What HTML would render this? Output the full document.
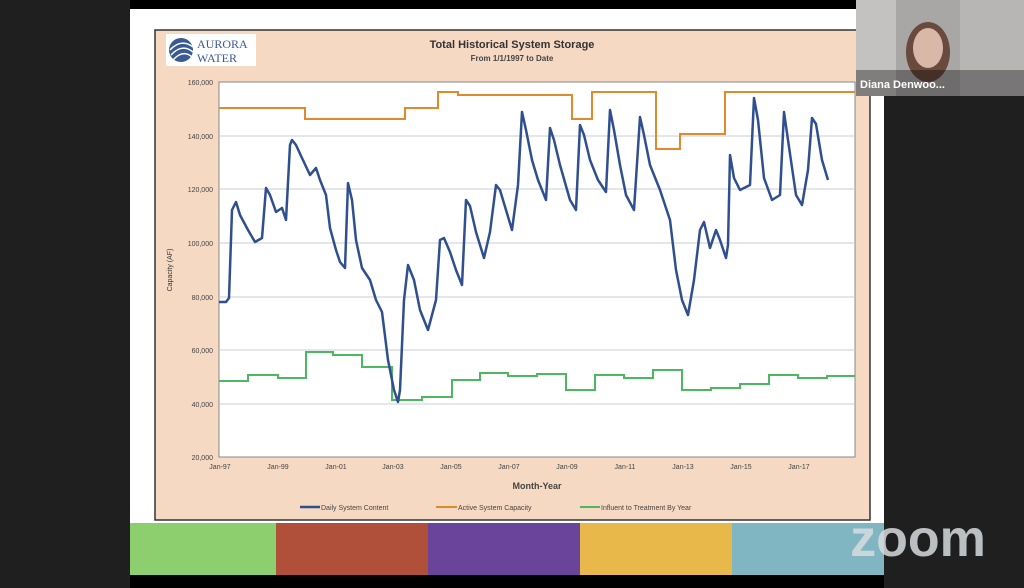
<!DOCTYPE html>
<html><head><meta charset="utf-8"><style>
html,body{margin:0;padding:0;width:1024px;height:588px;overflow:hidden;background:#1f1f1f;font-family:"Liberation Sans",sans-serif}
</style></head><body>
<svg width="1024" height="588" viewBox="0 0 1024 588" xmlns="http://www.w3.org/2000/svg" style="position:absolute;left:0;top:0">
<rect x="0" y="0" width="1024" height="588" fill="#1f1f1f"/>
<rect x="130" y="0" width="754" height="9" fill="#000"/>
<rect x="130" y="575" width="754" height="13" fill="#000"/>
<rect x="130" y="9" width="754" height="566" fill="#ffffff"/>
<rect x="155" y="30" width="715" height="490" fill="#f6d9c2" stroke="#333" stroke-width="1.5"/>
<rect x="166" y="34" width="90" height="32" fill="#fff"/>
<circle cx="181" cy="50" r="12" fill="#3a5a94"/>
<path d="M170 50 Q181 38 193 47 M171 55 Q182 43 193 52 M173 60 Q183 49 192 57" stroke="#fff" stroke-width="1.5" fill="none"/>
<text x="197" y="48" font-family="Liberation Serif" font-size="12" fill="#3a5a94">AURORA</text>
<text x="197" y="62" font-family="Liberation Serif" font-size="12" fill="#3a5a94">WATER</text>
<text x="512" y="48" text-anchor="middle" font-size="11" font-weight="bold" fill="#333">Total Historical System Storage</text>
<text x="512" y="61" text-anchor="middle" font-size="8" font-weight="bold" fill="#444">From 1/1/1997 to Date</text>
<rect x="219" y="82" width="636" height="375" fill="#fff" stroke="#888"/>
<g stroke="#c8cdd8" stroke-width="1">
<line x1="219" x2="855" y1="136" y2="136"/><line x1="219" x2="855" y1="189" y2="189"/><line x1="219" x2="855" y1="243" y2="243"/><line x1="219" x2="855" y1="297" y2="297"/><line x1="219" x2="855" y1="350" y2="350"/><line x1="219" x2="855" y1="404" y2="404"/>
</g>
<g font-size="7" fill="#444" text-anchor="end">
<text x="213" y="85">160,000</text><text x="213" y="139">140,000</text><text x="213" y="192">120,000</text><text x="213" y="246">100,000</text><text x="213" y="300">80,000</text><text x="213" y="353">60,000</text><text x="213" y="407">40,000</text><text x="213" y="460">20,000</text>
</g>
<text transform="translate(172,270) rotate(-90)" text-anchor="middle" font-size="7" fill="#333">Capacity (AF)</text>
<g font-size="7" fill="#444" text-anchor="middle">
<text x="220" y="469">Jan-97</text><text x="278" y="469">Jan-99</text><text x="336" y="469">Jan-01</text><text x="393" y="469">Jan-03</text><text x="451" y="469">Jan-05</text><text x="509" y="469">Jan-07</text><text x="567" y="469">Jan-09</text><text x="625" y="469">Jan-11</text><text x="683" y="469">Jan-13</text><text x="741" y="469">Jan-15</text><text x="799" y="469">Jan-17</text>
</g>
<text x="537" y="489" text-anchor="middle" font-size="9" font-weight="bold" fill="#444">Month-Year</text>
<polyline fill="none" stroke="#e08a2c" stroke-width="2" points="219,108 305,108 305,119 405,119 405,108 438,108 438,92 458,92 458,95 572,95 572,119 592,119 592,92 656,92 656,149 680,149 680,134 725,134 725,92 855,92"/>
<polyline fill="none" stroke="#4cb860" stroke-width="2" points="219,381 248,381 248,375 278,375 278,378 306,378 306,352 333,352 333,355 362,355 362,367 392,367 392,400 422,400 422,397 452,397 452,380 480,380 480,373 508,373 508,376 537,376 537,374 566,374 566,390 595,390 595,375 624,375 624,378 653,378 653,370 682,370 682,390 711,390 711,388 740,388 740,384 769,384 769,375 798,375 798,378 827,378 827,376 855,376"/>
<polyline fill="none" stroke="#2f4f8f" stroke-width="2.5" stroke-linejoin="round" points="219,302 226,302 229,298 232,210 236,202 240,215 248,230 255,242 262,238 266,188 270,195 276,212 282,208 286,220 290,145 292,140 296,145 302,158 310,175 316,168 320,180 326,195 330,228 336,250 340,262 345,268 348,183 352,200 356,240 362,268 370,280 376,300 382,312 388,360 394,390 398,402 400,390 404,300 408,265 414,280 420,310 428,330 436,300 440,240 444,238 450,252 456,270 462,285 466,200 470,206 476,232 484,258 490,232 496,185 500,190 506,210 512,230 518,185 522,112 526,130 532,160 538,180 546,200 550,128 554,140 560,165 570,200 576,210 580,125 584,135 590,160 598,180 606,192 610,110 614,130 620,165 626,195 634,210 640,117 644,135 650,165 660,190 670,220 676,270 682,300 688,315 694,280 700,230 704,222 710,248 716,230 720,240 726,258 728,245 730,155 734,178 740,190 750,185 754,98 758,120 764,178 772,200 780,195 784,112 788,140 796,195 802,205 808,170 812,118 816,124 822,160 828,180"/>
<g font-size="7" fill="#444">
<line x1="300" x2="320" y1="507" y2="507" stroke="#2f4f8f" stroke-width="2.5"/><text x="321" y="510">Daily System Content</text>
<line x1="436" x2="457" y1="507" y2="507" stroke="#e08a2c" stroke-width="2"/><text x="458" y="510">Active System Capacity</text>
<line x1="580" x2="600" y1="507" y2="507" stroke="#4cb860" stroke-width="2"/><text x="601" y="510">Influent to Treatment By Year</text>
</g>
<rect x="130" y="523" width="146" height="52" fill="#8dcf6f"/>
<rect x="276" y="523" width="152" height="52" fill="#b0503a"/>
<rect x="428" y="523" width="152" height="52" fill="#6a449a"/>
<rect x="580" y="523" width="152" height="52" fill="#e9b84a"/>
<rect x="732" y="523" width="152" height="52" fill="#80b5c2"/>
<rect x="856" y="0" width="168" height="96" fill="#a9a7a6"/>
<rect x="856" y="0" width="40" height="96" fill="#c4c2c1"/>
<rect x="960" y="0" width="64" height="96" fill="#b8b6b5"/>
<ellipse cx="928" cy="52" rx="22" ry="30" fill="#6a4a3e"/>
<ellipse cx="928" cy="48" rx="15" ry="20" fill="#d9b8a8"/>
<rect x="856" y="70" width="168" height="26" fill="#000" opacity="0.35"/>
<text x="860" y="88" font-size="11" font-weight="bold" fill="#fff">Diana Denwoo...</text>
<text x="918" y="556" text-anchor="middle" font-size="52" font-weight="bold" fill="#d8dcdf" opacity="0.85">zoom</text>
</svg>
</body></html>
